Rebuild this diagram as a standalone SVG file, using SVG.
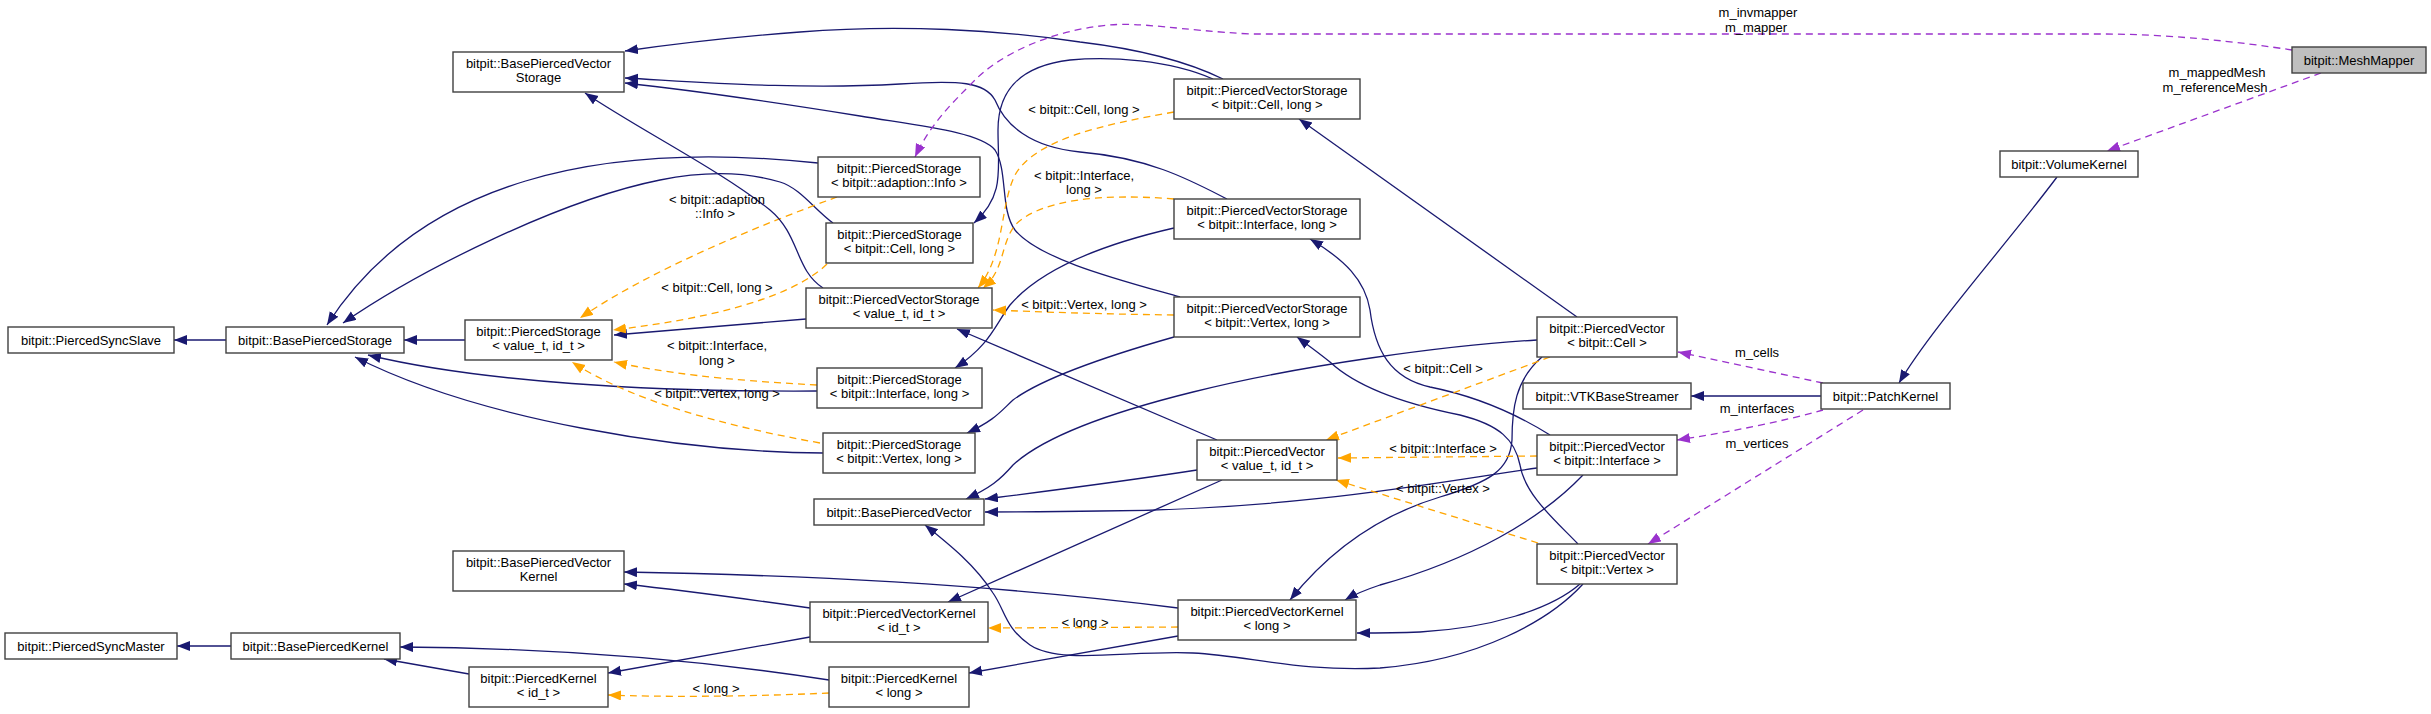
<svg xmlns="http://www.w3.org/2000/svg" width="2431" height="714" viewBox="0 0 2431 714">
<defs>
<style>
.n rect{fill:#ffffff;stroke:#404040;stroke-width:1.4}
.n.g rect{fill:#bfbfbf}
text{font-family:"Liberation Sans",Arial,sans-serif;font-size:13px;fill:#000;text-anchor:middle}
.e path{fill:none;stroke-width:1.3}
.inh{stroke:#191970;marker-end:url(#an)}
.tpl{stroke:#FFA500;stroke-dasharray:7,5;marker-end:url(#ao)}
.use{stroke:#9A32CD;stroke-dasharray:7,5;marker-end:url(#ap)}
</style>
<marker id="an" markerUnits="userSpaceOnUse" markerWidth="14" markerHeight="11" refX="13" refY="5" orient="auto"><path d="M0,0 L13,5 L0,10 z" fill="#191970"/></marker>
<marker id="ao" markerUnits="userSpaceOnUse" markerWidth="14" markerHeight="11" refX="13" refY="5" orient="auto"><path d="M0,0 L13,5 L0,10 z" fill="#FFA500"/></marker>
<marker id="ap" markerUnits="userSpaceOnUse" markerWidth="14" markerHeight="11" refX="13" refY="5" orient="auto"><path d="M0,0 L13,5 L0,10 z" fill="#9A32CD"/></marker>
</defs>
<rect width="2431" height="714" fill="#ffffff"/>
<g id="edges" class="e">
<path class="inh" d="M226,340 L174,340"/>
<path class="inh" d="M465,340 L404,340"/>
<path class="inh" d="M818,163 C600,140 420,180 327,325"/>
<path class="inh" d="M833,223 C815,210 800,188 780,182 C740,170 700,172 660,180 C560,200 420,270 343,323"/>
<path class="inh" d="M817,391 C650,392 480,382 368,355"/>
<path class="inh" d="M823,453 C680,452 480,420 355,357"/>
<path class="inh" d="M806,319 L614,335"/>
<path class="tpl" d="M837,197 C760,225 650,270 580,318"/>
<path class="tpl" d="M827,264 C790,300 700,320 613,330"/>
<path class="tpl" d="M817,385 C720,380 660,372 614,362"/>
<path class="tpl" d="M820,443 C720,425 630,400 572,362"/>
<path class="inh" d="M823,288 C795,270 800,235 770,210 C720,170 640,130 585,93"/>
<path class="inh" d="M1223,79 C1180,58 1130,48 1080,42 C1000,30 900,24 800,32 C720,38 660,46 625,51"/>
<path class="inh" d="M1227,199 C1190,180 1150,158 1080,152 C1030,147 1005,125 995,100 C985,82 960,80 900,84 C800,90 700,82 625,78"/>
<path class="inh" d="M1180,297 C1120,280 1040,260 1015,230 C1000,210 1008,170 995,150 C980,132 920,126 860,116 C760,100 690,90 625,83"/>
<path class="inh" d="M1174,228 C1100,245 1040,270 1010,305 C995,325 990,345 955,368"/>
<path class="inh" d="M1174,337 C1100,358 1040,380 1013,400 C1000,412 995,420 967,433"/>
<path class="inh" d="M1217,440 L957,329"/>
<path class="tpl" d="M1174,112 C1100,125 1035,140 1015,175 C1000,205 1005,255 978,288"/>
<path class="tpl" d="M1174,199 C1100,193 1040,200 1015,225 C1000,245 1005,270 983,288"/>
<path class="tpl" d="M1174,315 C1100,314 1040,312 993,310"/>
<path class="inh" d="M1213,79 C1170,60 1110,56 1070,60 C1020,66 998,90 998,130 C998,170 1005,195 974,223"/>
<path class="inh" d="M1577,317 L1299,119"/>
<path class="inh" d="M1550,435 C1510,410 1470,395 1430,387 C1390,378 1375,350 1370,310 C1365,280 1345,260 1310,239"/>
<path class="inh" d="M1578,544 C1555,520 1525,495 1520,465 C1515,440 1500,425 1460,415 C1410,405 1360,390 1330,362 C1315,350 1305,343 1297,337"/>
<path class="inh" d="M1197,470 C1120,482 1040,492 985,499"/>
<path class="inh" d="M1537,340 C1450,345 1300,365 1193,392 C1100,415 1040,440 1013,465 C1000,480 990,488 966,499"/>
<path class="inh" d="M1537,468 C1450,480 1300,510 1100,511 C1050,512 1010,512 985,512"/>
<path class="inh" d="M1583,584 C1550,620 1480,660 1380,668 C1300,672 1250,656 1193,653 C1130,650 1060,665 1030,645 C1005,628 1005,610 993,593 C975,565 950,545 925,525"/>
<path class="inh" d="M1222,480 L948,602"/>
<path class="inh" d="M1542,357 C1515,380 1512,410 1512,440 C1510,470 1490,482 1440,497 C1380,515 1330,550 1290,600"/>
<path class="inh" d="M1583,475 C1540,520 1470,560 1380,585 C1365,590 1355,594 1345,600"/>
<path class="inh" d="M1580,584 C1550,610 1490,628 1420,632 C1395,633 1375,633 1357,633"/>
<path class="tpl" d="M1550,357 L1326,440"/>
<path class="tpl" d="M1537,456 L1338,458"/>
<path class="tpl" d="M1538,543 L1336,480"/>
<path class="inh" d="M1178,608 C1000,585 800,575 624,572"/>
<path class="inh" d="M810,608 C740,598 680,590 624,584"/>
<path class="inh" d="M810,637 L608,673"/>
<path class="inh" d="M1178,636 L969,673"/>
<path class="tpl" d="M1178,627 L988,628"/>
<path class="inh" d="M829,680 C700,660 560,648 400,647"/>
<path class="inh" d="M469,674 L384,659"/>
<path class="inh" d="M231,646 L177,646"/>
<path class="tpl" d="M829,693 C740,697 660,697 608,695"/>
<path class="inh" d="M2057,177 C2010,240 1930,330 1899,383"/>
<path class="inh" d="M1821,396 L1691,396"/>
<path class="use" d="M1823,383 L1678,352"/>
<path class="use" d="M1823,410 C1780,422 1730,432 1677,440"/>
<path class="use" d="M1863,410 L1648,544"/>
<path class="use" d="M2292,50 C2240,42 2170,34 2100,34 L1250,34 C1180,30 1140,22 1110,25 C1050,30 1000,55 975,80 C950,105 930,125 915,157"/>
<path class="use" d="M2321,73 L2107,151"/>
</g>
<g id="labels">
<text x="717" y="203.5">&lt; bitpit::adaption</text>
<text x="715" y="217.5">::Info &gt;</text>
<text x="717" y="291.5">&lt; bitpit::Cell, long &gt;</text>
<text x="717" y="349.5">&lt; bitpit::Interface,</text>
<text x="717" y="364.5">long &gt;</text>
<text x="717" y="397.5">&lt; bitpit::Vertex, long &gt;</text>
<text x="1084" y="113.5">&lt; bitpit::Cell, long &gt;</text>
<text x="1084" y="179.5">&lt; bitpit::Interface,</text>
<text x="1084" y="193.5">long &gt;</text>
<text x="1084" y="308.5">&lt; bitpit::Vertex, long &gt;</text>
<text x="1443" y="372.5">&lt; bitpit::Cell &gt;</text>
<text x="1443" y="452.5">&lt; bitpit::Interface &gt;</text>
<text x="1443" y="492.5">&lt; bitpit::Vertex &gt;</text>
<text x="1085" y="626.5">&lt; long &gt;</text>
<text x="716" y="692.5">&lt; long &gt;</text>
<text x="1758" y="16.5">m_invmapper</text>
<text x="1756" y="31.5">m_mapper</text>
<text x="2217" y="76.5">m_mappedMesh</text>
<text x="2215" y="91.5">m_referenceMesh</text>
<text x="1757" y="356.5">m_cells</text>
<text x="1757" y="412.5">m_interfaces</text>
<text x="1757" y="447.5">m_vertices</text>
</g>
<g id="PiercedSyncSlave" class="n"><rect x="8" y="327" width="166" height="26"/><text x="91" y="344.5">bitpit::PiercedSyncSlave</text></g>
<g id="BasePiercedStorage" class="n"><rect x="226" y="327" width="178" height="26"/><text x="315" y="344.5">bitpit::BasePiercedStorage</text></g>
<g id="PiercedStorage_value" class="n"><rect x="465" y="320" width="147" height="40"/><text x="538.5" y="336">bitpit::PiercedStorage</text><text x="538.5" y="350">&lt; value_t, id_t &gt;</text></g>
<g id="BasePiercedVectorStorage" class="n"><rect x="453" y="52" width="171" height="40"/><text x="538.5" y="68">bitpit::BasePiercedVector</text><text x="538.5" y="82">Storage</text></g>
<g id="PiercedStorage_Info" class="n"><rect x="818" y="157" width="162" height="40"/><text x="899" y="173">bitpit::PiercedStorage</text><text x="899" y="187">&lt; bitpit::adaption::Info &gt;</text></g>
<g id="PiercedStorage_Cell" class="n"><rect x="826" y="223" width="147" height="40"/><text x="899.5" y="239">bitpit::PiercedStorage</text><text x="899.5" y="253">&lt; bitpit::Cell, long &gt;</text></g>
<g id="PiercedVectorStorage_value" class="n"><rect x="806" y="288" width="186" height="40"/><text x="899" y="304">bitpit::PiercedVectorStorage</text><text x="899" y="318">&lt; value_t, id_t &gt;</text></g>
<g id="PiercedStorage_Interface" class="n"><rect x="817" y="368" width="165" height="40"/><text x="899.5" y="384">bitpit::PiercedStorage</text><text x="899.5" y="398">&lt; bitpit::Interface, long &gt;</text></g>
<g id="PiercedStorage_Vertex" class="n"><rect x="823" y="433" width="152" height="40"/><text x="899" y="449">bitpit::PiercedStorage</text><text x="899" y="463">&lt; bitpit::Vertex, long &gt;</text></g>
<g id="BasePiercedVector" class="n"><rect x="814" y="499" width="170" height="26"/><text x="899" y="516.5">bitpit::BasePiercedVector</text></g>
<g id="PiercedVectorKernel_id" class="n"><rect x="810" y="602" width="178" height="40"/><text x="899" y="618">bitpit::PiercedVectorKernel</text><text x="899" y="632">&lt; id_t &gt;</text></g>
<g id="PiercedKernel_long" class="n"><rect x="829" y="667" width="140" height="40"/><text x="899" y="683">bitpit::PiercedKernel</text><text x="899" y="697">&lt; long &gt;</text></g>
<g id="PiercedVectorStorage_Cell" class="n"><rect x="1174" y="79" width="186" height="40"/><text x="1267" y="95">bitpit::PiercedVectorStorage</text><text x="1267" y="109">&lt; bitpit::Cell, long &gt;</text></g>
<g id="PiercedVectorStorage_Interface" class="n"><rect x="1174" y="199" width="186" height="40"/><text x="1267" y="215">bitpit::PiercedVectorStorage</text><text x="1267" y="229">&lt; bitpit::Interface, long &gt;</text></g>
<g id="PiercedVectorStorage_Vertex" class="n"><rect x="1174" y="297" width="186" height="40"/><text x="1267" y="313">bitpit::PiercedVectorStorage</text><text x="1267" y="327">&lt; bitpit::Vertex, long &gt;</text></g>
<g id="PiercedVector_value" class="n"><rect x="1197" y="440" width="140" height="40"/><text x="1267" y="456">bitpit::PiercedVector</text><text x="1267" y="470">&lt; value_t, id_t &gt;</text></g>
<g id="PiercedVectorKernel_long" class="n"><rect x="1178" y="600" width="178" height="40"/><text x="1267" y="616">bitpit::PiercedVectorKernel</text><text x="1267" y="630">&lt; long &gt;</text></g>
<g id="PiercedVector_Cell" class="n"><rect x="1537" y="317" width="140" height="40"/><text x="1607" y="333">bitpit::PiercedVector</text><text x="1607" y="347">&lt; bitpit::Cell &gt;</text></g>
<g id="VTKBaseStreamer" class="n"><rect x="1523" y="383" width="168" height="26"/><text x="1607" y="400.5">bitpit::VTKBaseStreamer</text></g>
<g id="PiercedVector_Interface" class="n"><rect x="1537" y="435" width="140" height="40"/><text x="1607" y="451">bitpit::PiercedVector</text><text x="1607" y="465">&lt; bitpit::Interface &gt;</text></g>
<g id="PiercedVector_Vertex" class="n"><rect x="1537" y="544" width="140" height="40"/><text x="1607" y="560">bitpit::PiercedVector</text><text x="1607" y="574">&lt; bitpit::Vertex &gt;</text></g>
<g id="PatchKernel" class="n"><rect x="1821" y="383" width="129" height="26"/><text x="1885.5" y="400.5">bitpit::PatchKernel</text></g>
<g id="VolumeKernel" class="n"><rect x="2000" y="151" width="138" height="26"/><text x="2069" y="168.5">bitpit::VolumeKernel</text></g>
<g id="MeshMapper" class="n g"><rect x="2292" y="47" width="134" height="26"/><text x="2359" y="64.5">bitpit::MeshMapper</text></g>
<g id="BasePiercedVectorKernel" class="n"><rect x="453" y="551" width="171" height="40"/><text x="538.5" y="567">bitpit::BasePiercedVector</text><text x="538.5" y="581">Kernel</text></g>
<g id="PiercedSyncMaster" class="n"><rect x="5" y="633" width="172" height="26"/><text x="91" y="650.5">bitpit::PiercedSyncMaster</text></g>
<g id="BasePiercedKernel" class="n"><rect x="231" y="633" width="169" height="26"/><text x="315.5" y="650.5">bitpit::BasePiercedKernel</text></g>
<g id="PiercedKernel_id" class="n"><rect x="469" y="667" width="139" height="40"/><text x="538.5" y="683">bitpit::PiercedKernel</text><text x="538.5" y="697">&lt; id_t &gt;</text></g>
</svg>
